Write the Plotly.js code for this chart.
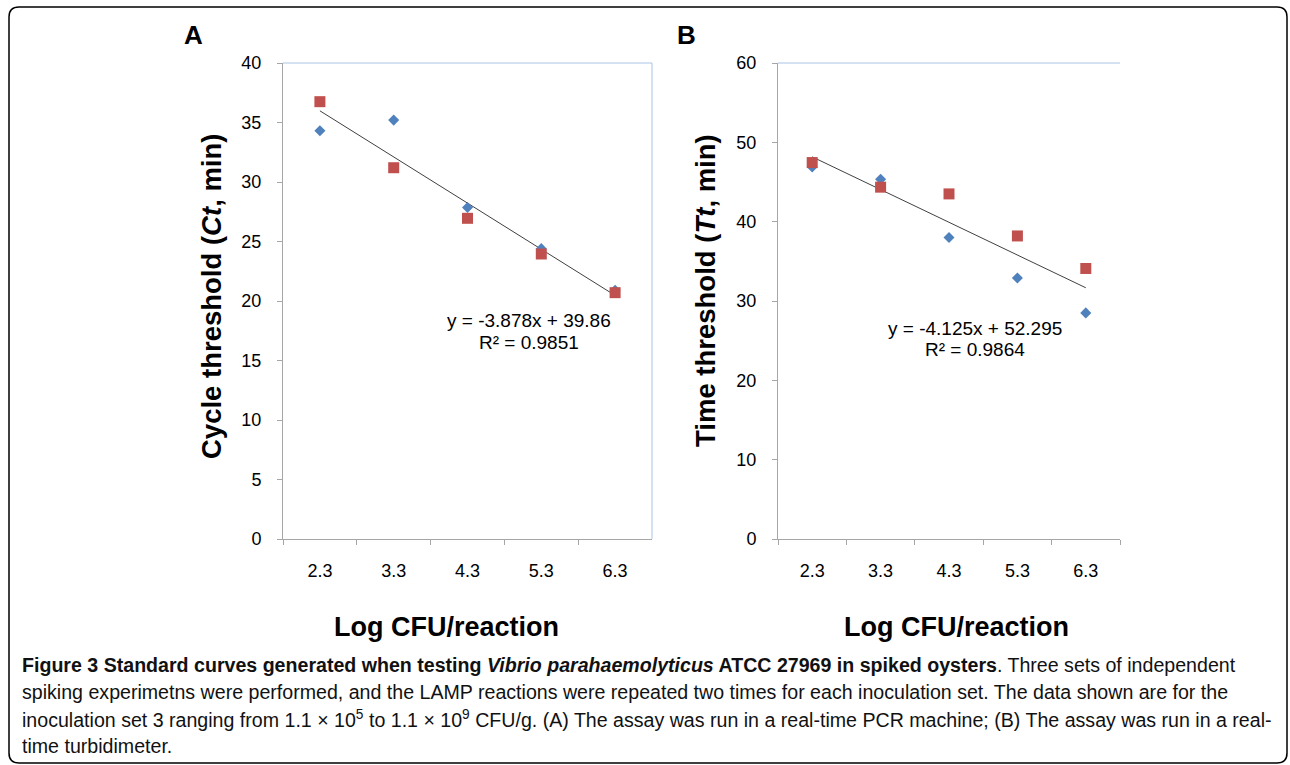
<!DOCTYPE html>
<html>
<head>
<meta charset="utf-8">
<script src="https://cdn.plot.ly/plotly-3.0.1.min.js"></script>
<style>
html,body{margin:0;padding:0;background:#fff;}
#chart{width:1290px;height:765px;}
</style>
</head>
<body>
<div id="chart"></div>
<script>
// ---- data ----
const categories = ["2.3", "3.3", "4.3", "5.3", "6.3"];
// Panel A: real-time PCR (Ct, min)
const ctRun1 = [34.3, 35.2, 27.85, 24.4, 20.9];
const ctRun2 = [36.75, 31.2, 26.95, 23.95, 20.7];
const ctTrend = [-3.878, 39.86];   // slope, intercept (x = category index 1..5)
const ctR2 = "0.9851";
// Panel B: turbidimeter (Tt, min)
const ttRun1 = [46.9, 45.35, 38.0, 32.9, 28.5];
const ttRun2 = [47.45, 44.35, 43.5, 38.2, 34.1];
const ttTrend = [-4.125, 52.295];
const ttR2 = "0.9864";
const yTicksA = [0, 5, 10, 15, 20, 25, 30, 35, 40];
const yTicksB = [0, 10, 20, 30, 40, 50, 60];

// ---- helpers ----
const W = 1290, H = 765;
const px = x => x / W;
const py = y => 1 - y / H;
const FONT = "Liberation Sans, Arial, sans-serif";
const BLUE = "#4F81BD", RED = "#C0504D";
const AXIS = "#a6a6a6", FRAME = "#a9c4e6";

function trendLine(coef, xa, ya) {
  const xs = [categories[0], categories[categories.length - 1]];
  const ys = [coef[0] * 1 + coef[1], coef[0] * categories.length + coef[1]];
  return {x: xs, y: ys, xaxis: xa, yaxis: ya, mode: "lines", type: "scatter",
          line: {color: "#404040", width: 1}, showlegend: false, hoverinfo: "skip"};
}
function pts(vals, xa, ya, color, symbol, size) {
  return {x: categories, y: vals, xaxis: xa, yaxis: ya, mode: "markers", type: "scatter",
          marker: {color: color, symbol: symbol, size: size, line: {width: 0}}, showlegend: false};
}

const traces = [
  trendLine(ctTrend, "x", "y"),
  pts(ctRun1, "x", "y", BLUE, "diamond", 8.5),
  pts(ctRun2, "x", "y", RED, "square", 11),
  trendLine(ttTrend, "x2", "y2"),
  pts(ttRun1, "x2", "y2", BLUE, "diamond", 8.5),
  pts(ttRun2, "x2", "y2", RED, "square", 11)
];

function xAxis(domain, anchor) {
  return {domain: domain, anchor: anchor, type: "category", categoryarray: categories,
    categoryorder: "array", range: [-0.5, categories.length - 0.5], tickson: "boundaries",
    ticks: "outside", ticklen: 5, tickcolor: AXIS, tickwidth: 1,
    showline: true, linecolor: AXIS, linewidth: 1, showgrid: false, zeroline: false,
    tickfont: {family: FONT, size: 18, color: "#000"}, ticklabelstandoff: 15, fixedrange: true};
}
function yAxis(domain, anchor, range, ticks) {
  return {domain: domain, anchor: anchor, range: range, tickvals: ticks,
    ticks: "outside", ticklen: 5, tickcolor: AXIS, tickwidth: 1,
    showline: true, linecolor: AXIS, linewidth: 1, showgrid: false, zeroline: false,
    tickfont: {family: FONT, size: 18, color: "#000"}, ticklabelstandoff: 12, fixedrange: true};
}

const yDom = [py(539), py(63)];
const layout = {
  width: W, height: H, margin: {l: 0, r: 0, t: 0, b: 0},
  paper_bgcolor: "#fff", plot_bgcolor: "#fff", showlegend: false,
  xaxis: xAxis([px(283), px(652)], "y"),
  yaxis: yAxis(yDom, "x", [0, 40], yTicksA),
  xaxis2: xAxis([px(778), px(1120)], "y2"),
  yaxis2: yAxis(yDom, "x2", [0, 60], yTicksB),
  shapes: [
    // plot frame A (top + right)
    {type: "line", xref: "x domain", yref: "y domain", x0: 0, x1: 1, y0: 1, y1: 1, line: {color: FRAME, width: 1}},
    {type: "line", xref: "x domain", yref: "y domain", x0: 1, x1: 1, y0: 0, y1: 1, line: {color: FRAME, width: 1}},
    // plot frame B (top)
    {type: "line", xref: "x2 domain", yref: "y2 domain", x0: 0, x1: 1, y0: 1, y1: 1, line: {color: FRAME, width: 1}},
    // outer rounded figure frame
    {type: "path", xref: "paper", yref: "paper", line: {color: "#000", width: 1.5},
     path: (() => {
       const l = 9, r = 1287, t = 7, b = 763, rad = 10;
       return `M ${px(l)},${py(t + rad)} Q ${px(l)},${py(t)} ${px(l + rad)},${py(t)} ` +
              `L ${px(r - rad)},${py(t)} Q ${px(r)},${py(t)} ${px(r)},${py(t + rad)} ` +
              `L ${px(r)},${py(b - rad)} Q ${px(r)},${py(b)} ${px(r - rad)},${py(b)} ` +
              `L ${px(l + rad)},${py(b)} Q ${px(l)},${py(b)} ${px(l)},${py(b - rad)} Z`;
     })()}
  ],
  annotations: []
};

const ann = layout.annotations;
function addText(text, x, y, size, opts) {
  ann.push(Object.assign({text: text, x: px(x), y: py(y), xref: "paper", yref: "paper",
    showarrow: false, xanchor: "center", yanchor: "middle",
    font: {family: FONT, size: size, color: "#000"}}, opts || {}));
}
// panel letters
addText("<b>A</b>", 193, 35, 26);
addText("<b>B</b>", 686, 35, 26);
// axis titles
addText("<b>Log CFU/reaction</b>", 446, 627, 27);
addText("<b>Log CFU/reaction</b>", 956, 627, 27);
addText("<b>Cycle threshold (<i>Ct</i>, min)</b>", 212, 297, 27.5, {textangle: -90});
addText("<b>Time threshold (<i>Tt</i>, min)</b>", 705, 291, 27.5, {textangle: -90});
// trendline equations
const eq = c => `y = ${c[0]}x + ${c[1]}`;
addText(eq(ctTrend), 529, 320, 19);
addText("R² = " + ctR2, 529, 342, 19);
addText(eq(ttTrend), 975, 328, 19);
addText("R² = " + ttR2, 975, 350, 19);

// caption
const captionLines = [
  "<b>Figure 3 Standard curves generated when testing <i>Vibrio parahaemolyticus</i> ATCC 27969 in spiked oysters</b>. Three sets of independent",
  "spiking experimetns were performed, and the LAMP reactions were repeated two times for each inoculation set. The data shown are for the",
  "inoculation set 3 ranging from 1.1 × 10<sup>5</sup> to 1.1 × 10<sup>9</sup> CFU/g. (A) The assay was run in a real-time PCR machine; (B) The assay was run in a real-",
  "time turbidimeter."
];
captionLines.forEach((t, i) => {
  ann.push({text: t, x: px(20), y: py(665 + i * 27), xref: "paper", yref: "paper",
    showarrow: false, xanchor: "left", yanchor: "middle", align: "left",
    font: {family: FONT, size: 19.6, color: "#111"}});
});

Plotly.newPlot("chart", traces, layout, {staticPlot: true, displayModeBar: false});
</script>
</body>
</html>
